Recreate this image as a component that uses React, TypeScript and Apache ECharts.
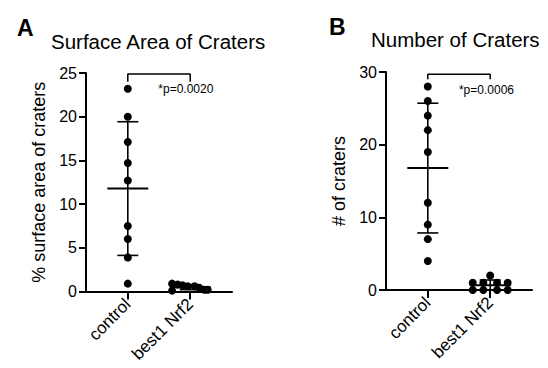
import { useEffect, useRef } from "react";
import * as echarts from "echarts";

const categories = ["control", "best1 Nrf2"];
const categoryPositions = [1, 2];

// Panel A: % surface area of craters
const areaControl = [23.2, 20.0, 17.1, 14.7, 12.7, 7.5, 6.0, 3.9, 0.9];
const areaBest1 = [0.9, 0.1, 0.8, 0.7, 0.6, 0.6, 0.4, 0.2, 0.2];
const areaBest1Jitter = [-0.29, -0.29, -0.2, -0.12, -0.04, 0.07, 0.15, 0.23, 0.28];
const areaAxis = { min: 0, max: 25, interval: 5 };

// Panel B: number of craters
const countControl = [28, 26, 24, 22, 19, 12, 9, 7, 4];
const countBest1 = [2, 1, 1, 1, 1, 0, 0, 0, 0];
const countBest1Jitter = [0, -0.28, -0.11, 0.11, 0.28, -0.28, -0.11, 0.11, 0.28];
const countAxis = { min: 0, max: 30, interval: 10 };

const pTexts = ["*p=0.0020", "*p=0.0006"];
const titles = ["Surface Area of Craters", "Number of Craters"];
const panelLetters = ["A", "B"];
const yNames = ["% surface area of craters", "# of craters"];

const FONT = '"Liberation Sans", Arial, sans-serif';

function mean(a: number[]) {
  return a.reduce((s, v) => s + v, 0) / a.length;
}
function sd(a: number[]) {
  const m = mean(a);
  return Math.sqrt(a.reduce((s, v) => s + (v - m) * (v - m), 0) / (a.length - 1));
}

export default function App() {
  const ref = useRef<HTMLDivElement>(null);
  useEffect(() => {
    if (!ref.current) return;
    const chart = echarts.init(ref.current, undefined, { renderer: "svg" });

    const grids = [
      { left: 86, top: 73, width: 146, height: 218.5 },
      { left: 386, top: 72, width: 146, height: 218 },
    ];
    const yAxes = [areaAxis, countAxis];

    const xAxis = grids.map((_, i) => ({
      type: "value",
      gridIndex: i,
      min: 0.33,
      max: 2.67,
      splitLine: { show: false },
      axisLine: { show: true, lineStyle: { color: "#000", width: 2 } },
      axisTick: { show: true, customValues: categoryPositions, length: 8, lineStyle: { color: "#000", width: 2 } },
      axisLabel: {
        customValues: categoryPositions,
        formatter: (v: number) => categories[Math.round(v) - 1],
        rotate: 45,
        fontSize: 17,
        color: "#000",
        fontFamily: FONT,
        margin: 10,
      },
    }));

    const yAxis = yAxes.map((a, i) => ({
      type: "value",
      gridIndex: i,
      min: a.min,
      max: a.max,
      interval: a.interval,
      name: yNames[i],
      nameLocation: "middle",
      nameGap: 38,
      nameTextStyle: { fontSize: 18, color: "#000", fontFamily: FONT },
      splitLine: { show: false },
      axisLine: { show: true, onZero: false, lineStyle: { color: "#000", width: 2 } },
      axisTick: { show: true, length: 7, lineStyle: { color: "#000", width: 2 } },
      axisLabel: { fontSize: 16, color: "#000", fontFamily: FONT, margin: 9 },
    }));

    const groups = [
      [areaControl, areaBest1, areaBest1Jitter],
      [countControl, countBest1, countBest1Jitter],
    ] as number[][][];

    const brackets = [
      [[1, 24.0], [1, 24.88], [2, 24.88], [2, 24.0]],
      [[1, 29.0], [1, 29.7], [2, 29.7], [2, 29.0]],
    ];
    const pPos = [
      [1.93, 23.15],
      [1.94, 27.5],
    ];

    const series: any[] = [];
    groups.forEach((g, i) => {
      const [ctrl, trt, jit] = g;
      series.push({
        type: "custom",
        xAxisIndex: i,
        yAxisIndex: i,
        encode: { x: 0, y: 1 },
        data: [
          [1, mean(ctrl), sd(ctrl)],
          [2, mean(trt), sd(trt)],
        ],
        renderItem: (_p: any, api: any) => {
          const x = api.value(0);
          const m = api.value(1);
          const s = api.value(2);
          const c = api.coord([x, m]);
          const t = api.coord([x, m + s]);
          const b = api.coord([x, Math.max(m - s, 0)]);
          const st = { stroke: "#000", lineWidth: 1.6 };
          return {
            type: "group",
            children: [
              { type: "line", shape: { x1: c[0] - 20.5, y1: c[1], x2: c[0] + 20.5, y2: c[1] }, style: { stroke: "#000", lineWidth: 2 } },
              { type: "line", shape: { x1: c[0], y1: t[1], x2: c[0], y2: b[1] }, style: st },
              { type: "line", shape: { x1: c[0] - 10.5, y1: t[1], x2: c[0] + 10.5, y2: t[1] }, style: st },
              { type: "line", shape: { x1: c[0] - 10.5, y1: b[1], x2: c[0] + 10.5, y2: b[1] }, style: st },
            ],
          };
        },
        z: 2,
      });
      series.push({
        type: "scatter",
        xAxisIndex: i,
        yAxisIndex: i,
        symbol: "circle",
        symbolSize: 8,
        itemStyle: { color: "#000", opacity: 1 },
        data: [
          ...ctrl.map((v) => [1, v]),
          ...trt.map((v, k) => [2 + jit[k], v]),
        ],
        z: 3,
      });
      series.push({
        type: "line",
        xAxisIndex: i,
        yAxisIndex: i,
        data: brackets[i],
        symbol: "none",
        lineStyle: { color: "#000", width: 1.5, opacity: 1 },
        clip: false,
        z: 3,
      });
      series.push({
        type: "scatter",
        xAxisIndex: i,
        yAxisIndex: i,
        symbolSize: 0,
        data: [pPos[i]],
        itemStyle: { color: "#000", opacity: 1 },
        label: {
          show: true,
          position: "inside",
          formatter: pTexts[i],
          fontSize: 12,
          color: "#000",
          textBorderWidth: 0,
          fontFamily: FONT,
        },
        silent: true,
        clip: false,
      });
    });

    chart.setOption({
      animation: false,
      backgroundColor: "#fff",
      title: [
        { text: panelLetters[0], left: 12, top: 11, textStyle: { fontSize: 23, fontWeight: 900, color: "#000", fontFamily: FONT } },
        { text: titles[0], left: 46, top: 26, textStyle: { fontSize: 20.5, fontWeight: "normal", color: "#000", fontFamily: FONT } },
        { text: panelLetters[1], left: 324, top: 10, textStyle: { fontSize: 23, fontWeight: 900, color: "#000", fontFamily: FONT } },
        { text: titles[1], left: 366, top: 24, textStyle: { fontSize: 20.5, fontWeight: "normal", color: "#000", fontFamily: FONT } },
      ],
      grid: grids,
      xAxis,
      yAxis,
      series,
    } as any);
    return () => chart.dispose();
  }, []);
  return <div ref={ref} style={{ position: "fixed", left: 0, top: 0, width: 548, height: 368 }} />;
}
